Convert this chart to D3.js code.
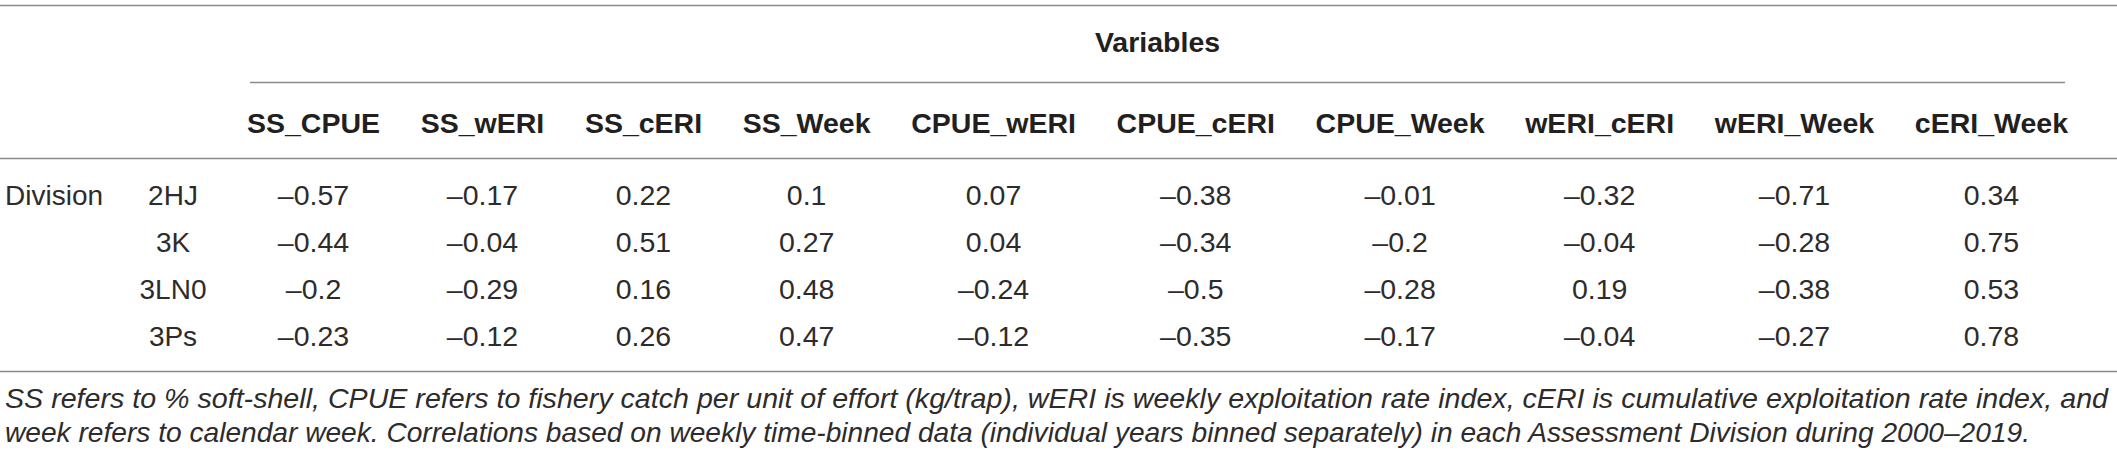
<!DOCTYPE html>
<html>
<head>
<meta charset="utf-8">
<script src="https://cdn.jsdelivr.net/npm/d3@7"></script>
<style>
  body { margin: 0; background: #fff; }
  svg { display: block; font-family: "Liberation Sans", Arial, sans-serif; }
</style>
</head>
<body>
<svg id="table" width="2117" height="457"></svg>
<script>
// table data
const divisions = ["2HJ", "3K", "3LN0", "3Ps"];
const variables = ["SS_CPUE", "SS_wERI", "SS_cERI", "SS_Week", "CPUE_wERI",
                   "CPUE_cERI", "CPUE_Week", "wERI_cERI", "wERI_Week", "cERI_Week"];

const ssCpue   = [-0.57, -0.44, -0.2, -0.23];
const ssWeri   = [-0.17, -0.04, -0.29, -0.12];
const ssCeri   = [0.22, 0.51, 0.16, 0.26];
const ssWeek   = [0.1, 0.27, 0.48, 0.47];
const cpueWeri = [0.07, 0.04, -0.24, -0.12];
const cpueCeri = [-0.38, -0.34, -0.5, -0.35];
const cpueWeek = [-0.01, -0.2, -0.28, -0.17];
const weriCeri = [-0.32, -0.04, 0.19, -0.04];
const weriWeek = [-0.71, -0.28, -0.38, -0.27];
const ceriWeek = [0.34, 0.75, 0.53, 0.78];

const seriesList = [ssCpue, ssWeri, ssCeri, ssWeek, cpueWeri,
                    cpueCeri, cpueWeek, weriCeri, weriWeek, ceriWeek];

const footnote = [
  "SS refers to % soft-shell, CPUE refers to fishery catch per unit of effort (kg/trap), wERI is weekly exploitation rate index, cERI is cumulative exploitation rate index, and",
  "week refers to calendar week. Correlations based on weekly time-binned data (individual years binned separately) in each Assessment Division during 2000\u20132019."
];

const svg = d3.select("#table");
const W = 2117;
const textColor = "#231f20";
const bodyColor = "#2e2b2c";
const ruleColor = "#8a8a8a";

// header cells, measured so the columns can be laid out like an auto table
const left = 247, right = 2068;
const headers = svg.append("g")
  .selectAll("text")
  .data(variables)
  .join("text")
    .attr("font-size", 28.5)
    .attr("font-weight", "bold")
    .attr("fill", textColor)
    .attr("text-anchor", "middle")
    .attr("y", 133)
    .text(d => d);

let widths = [];
headers.each(function() { widths.push(this.getComputedTextLength()); });
let gap = (right - left - d3.sum(widths)) / (variables.length - 1);
let centers = [];
let cursor = left;
widths.forEach(w => { centers.push(cursor + w / 2); cursor += w + gap; });

const x = d3.scaleOrdinal().domain(variables).range(centers);
const y = d3.scalePoint().domain(divisions).range([205, 346]);

headers.attr("x", d => x(d));

// spanning header
svg.append("text")
  .attr("x", (left + right) / 2)
  .attr("y", 52)
  .attr("font-size", 28.5)
  .attr("font-weight", "bold")
  .attr("fill", textColor)
  .attr("text-anchor", "middle")
  .text("Variables");

// rules
function rule(y0, x0, x1) {
  svg.append("line")
    .attr("x1", x0).attr("x2", x1)
    .attr("y1", y0).attr("y2", y0)
    .attr("stroke", ruleColor)
    .attr("stroke-width", 1.3);
}
rule(5.5, 0, W);
rule(82.5, left + 3, right - 3);
rule(158.5, 0, W);
rule(371.5, 0, W);

// stub columns
svg.append("text")
  .attr("x", 5)
  .attr("y", y(divisions[0]))
  .attr("font-size", 28)
  .attr("fill", bodyColor)
  .text("Division");

svg.append("g")
  .selectAll("text")
  .data(divisions)
  .join("text")
    .attr("x", 173)
    .attr("y", d => y(d))
    .attr("font-size", 28)
    .attr("fill", bodyColor)
    .attr("text-anchor", "middle")
    .text(d => d);

// body cells
const fmt = v => (v < 0 ? "\u2013" : "") + String(Math.abs(v));
const cells = [];
variables.forEach((v, i) => {
  seriesList[i].forEach((val, j) => cells.push({ variable: v, division: divisions[j], value: val }));
});

svg.append("g")
  .selectAll("text")
  .data(cells)
  .join("text")
    .attr("x", d => x(d.variable))
    .attr("y", d => y(d.division))
    .attr("font-size", 28.5)
    .attr("fill", bodyColor)
    .attr("text-anchor", "middle")
    .text(d => fmt(d.value));

// footnote
const noteLengths = [2103, 2025];
svg.append("g")
  .selectAll("text")
  .data(footnote)
  .join("text")
    .attr("x", 5)
    .attr("y", (d, i) => 408 + i * 34)
    .attr("font-size", 28)
    .attr("font-style", "italic")
    .attr("fill", bodyColor)
    .attr("textLength", (d, i) => noteLengths[i])
    .attr("lengthAdjust", "spacingAndGlyphs")
    .text(d => d);
</script>
</body>
</html>
